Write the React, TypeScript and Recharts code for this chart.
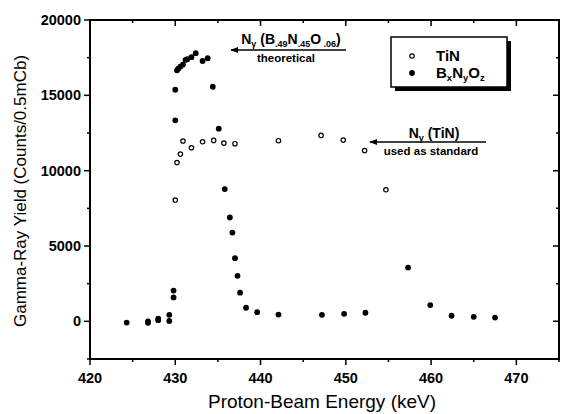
import { ScatterChart, Scatter, XAxis, YAxis } from 'recharts';

document.body.style.margin = '0';

const FONT = '"Liberation Sans", Arial, sans-serif';

// TiN (open circles)
const tinEnergy = [430.0, 430.2, 430.6, 430.9, 431.9, 433.2, 434.5, 435.7, 437.0, 442.1, 447.1, 449.7, 452.2, 454.7];
const tinYield = [8050, 10540, 11100, 11970, 11520, 11920, 12010, 11830, 11790, 11990, 12340, 12030, 11340, 8730];

// BxNyOz (filled circles)
const bnoEnergy = [
  424.3, 426.8, 426.8, 428.0, 428.0, 429.3, 429.3, 429.8, 429.8, 430.0, 430.0, 430.2, 430.35, 430.6, 430.9,
  431.2, 431.4, 431.9, 432.4, 433.2, 433.8, 434.4, 435.1, 435.8, 436.4, 436.7, 437.0, 437.3, 437.6, 438.3,
  439.6, 442.1, 447.2, 449.8, 452.3, 457.3, 459.9, 462.4, 465.0, 467.5,
];
const bnoYield = [
  -80, -100, 0, 80, 170, 30, 430, 2040, 1590, 13340, 15370, 16660, 16770, 16910, 17040,
  17350, 17400, 17530, 17800, 17280, 17460, 15570, 12790, 8780, 6890, 5890, 4190, 3020, 1900, 900,
  610, 450, 430, 500, 570, 3570, 1080, 370, 300, 250,
];

const xTicks = [420, 425, 430, 435, 440, 445, 450, 455, 460, 465, 470, 475];
const yTicks = [-2500, 0, 2500, 5000, 7500, 10000, 12500, 15000, 17500, 20000];
const xDomain = [420, 475];
const yDomain = [-2500, 20000];

const tinData = tinEnergy.map((x, i) => ({ x, y: tinYield[i] }));
const bnoData = bnoEnergy.map((x, i) => ({ x, y: bnoYield[i] }));

const W = 561;
const H = 414;
// plot box (from chart margins + axis sizes)
const PL = 90;
const PR = 559;
const PT = 20;
const PB = 359;
const sx = (v: number) => PL + ((v - xDomain[0]) / (xDomain[1] - xDomain[0])) * (PR - PL);
const sy = (v: number) => PB - ((v - yDomain[0]) / (yDomain[1] - yDomain[0])) * (PB - PT);

function BottomTick(props: any) {
  const { x, y, payload } = props;
  const major = payload.value % 10 === 0;
  return (
    <g>
      <line x1={x} x2={x} y1={y} y2={y + (major ? 6 : 3)} stroke="#000" strokeWidth={1.5} />
      {major && payload.value < 475 && (
        <text x={x} y={y + 24} textAnchor="middle" fontSize={14.5} fontWeight="bold" fontFamily={FONT} fill="#000">
          {payload.value}
        </text>
      )}
    </g>
  );
}

function LeftTick(props: any) {
  const { x, y, payload } = props;
  const major = payload.value % 5000 === 0;
  return (
    <g>
      <line x1={x} x2={x - (major ? 6 : 3)} y1={y} y2={y} stroke="#000" strokeWidth={1.5} />
      {major && (
        <text x={x - 9} y={y + 5} textAnchor="end" fontSize={14.5} fontWeight="bold" fontFamily={FONT} fill="#000">
          {payload.value}
        </text>
      )}
    </g>
  );
}

const openDot = (p: any) => <circle cx={p.cx} cy={p.cy} r={2.2} fill="#fff" stroke="#000" strokeWidth={1.2} />;
const filledDot = (p: any) => <circle cx={p.cx} cy={p.cy} r={2.9} fill="#000" />;

const axisLine = { stroke: '#000', strokeWidth: 2 };

export default function App() {
  const topTicks = xTicks.map((t) => `M${sx(t)},${PT} V${PT + (t % 10 === 0 ? 6 : 3)}`).join(' ');
  const rightTicks = yTicks.map((t) => `M${PR},${sy(t)} H${PR - (t % 5000 === 0 ? 6 : 3)}`).join(' ');
  return (
    <div style={{ position: 'relative', width: W, height: H, background: '#fff', overflow: 'hidden' }}>
      <ScatterChart width={W} height={H} margin={{ top: PT, right: W - PR, bottom: 0, left: 0 }}>
        <XAxis
          xAxisId="b"
          type="number"
          dataKey="x"
          domain={xDomain}
          ticks={xTicks}
          height={H - PB}
          tickSize={0}
          tickMargin={0}
          tickLine={false}
          axisLine={axisLine}
          tick={BottomTick}
          interval={0}
        />
        <YAxis
          yAxisId="l"
          type="number"
          dataKey="y"
          domain={yDomain}
          ticks={yTicks}
          width={PL}
          tickSize={0}
          tickMargin={0}
          tickLine={false}
          axisLine={axisLine}
          tick={LeftTick}
          interval={0}
        />
        <Scatter name="TiN" data={tinData} xAxisId="b" yAxisId="l" shape={openDot} isAnimationActive={false} />
        <Scatter name="BxNyOz" data={bnoData} xAxisId="b" yAxisId="l" shape={filledDot} isAnimationActive={false} />
      </ScatterChart>

      <svg
        width={W}
        height={H}
        style={{ position: 'absolute', left: 0, top: 0, pointerEvents: 'none' }}
        fontFamily={FONT}
      >
        <defs>
          <marker id="arr" viewBox="0 0 10 10" refX="1" refY="5" markerWidth="8" markerHeight="6" orient="auto">
            <path d="M0,5 L10,1 L10,9 z" fill="#000" />
          </marker>
        </defs>

        {/* mirrored top / right frame with inward ticks */}
        <rect x={PL} y={PT} width={PR - PL} height={PB - PT} fill="none" stroke="#000" strokeWidth={2} />
        <path d={topTicks} stroke="#000" strokeWidth={1.5} fill="none" />
        <path d={rightTicks} stroke="#000" strokeWidth={1.5} fill="none" />

        {/* axis titles */}
        <text x={322} y={408} textAnchor="middle" fontSize={19} fill="#000">
          Proton-Beam Energy  (keV)
        </text>
        <text
          transform="translate(26,191) rotate(-90)"
          textAnchor="middle"
          fontSize={17}
          fill="#000"
        >
          Gamma-Ray Yield  (Counts/0.5mCb)
        </text>

        {/* legend */}
        <rect x={395} y={41} width={116} height={50} fill="#000" />
        <rect x={391} y={37} width={116} height={50} fill="#fff" stroke="#000" strokeWidth={1.5} />
        <circle cx={412} cy={56} r={2.2} fill="#fff" stroke="#000" strokeWidth={1.2} />
        <text x={436} y={61} fontSize={15} fontWeight="bold" fill="#000">TiN</text>
        <circle cx={412} cy={73} r={2.9} fill="#000" />
        <text x={436} y={78} fontSize={15} fontWeight="bold" fill="#000">
          B<tspan fontSize={9.5} dy={3}>x</tspan>
          <tspan dy={-3}>N</tspan>
          <tspan fontSize={9.5} dy={3}>y</tspan>
          <tspan dy={-3}>O</tspan>
          <tspan fontSize={9.5} dy={3}>z</tspan>
        </text>

        {/* theoretical annotation */}
        <text x={291} y={44} textAnchor="middle" fontSize={14} fontWeight="bold" fill="#000">
          N<tspan fontSize={9} dy={3}>γ</tspan>
          <tspan dy={-3}> (B</tspan>
          <tspan fontSize={9} dy={3}>.49</tspan>
          <tspan dy={-3}>N</tspan>
          <tspan fontSize={9} dy={3}>.45</tspan>
          <tspan dy={-3}>O</tspan>
          <tspan fontSize={9} dy={3}> .06</tspan>
          <tspan dy={-3}>)</tspan>
        </text>
        <line x1={231} y1={50} x2={346} y2={50} stroke="#000" strokeWidth={1.3} markerStart="url(#arr)" />
        <text x={286} y={62} textAnchor="middle" fontSize={11.5} fontWeight="bold" fill="#000">theoretical</text>

        {/* TiN standard annotation */}
        <text x={434} y={138} textAnchor="middle" fontSize={14} fontWeight="bold" fill="#000">
          N<tspan fontSize={9} dy={3}>γ</tspan>
          <tspan dy={-3}> (TiN)</tspan>
        </text>
        <line x1={370} y1={142} x2={486} y2={142} stroke="#000" strokeWidth={1.3} markerStart="url(#arr)" />
        <text x={431} y={155} textAnchor="middle" fontSize={11.5} fontWeight="bold" fill="#000">used as standard</text>
      </svg>
    </div>
  );
}
